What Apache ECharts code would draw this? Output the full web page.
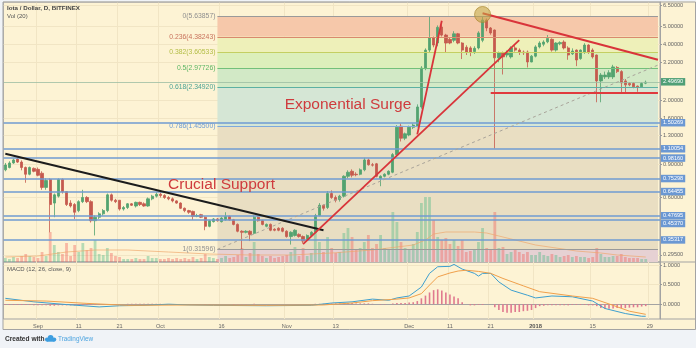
<!DOCTYPE html>
<html>
<head>
<meta charset="utf-8">
<script src="https://cdn.jsdelivr.net/npm/echarts@6/dist/echarts.min.js"></script>
<style>
html,body{margin:0;padding:0;background:#ffffff;}
#chart{width:696px;height:348px;}
</style>
</head>
<body>
<div id="chart"></div>
<script>
// ---------------- data ----------------
const firstDay = Date.UTC(2017, 7, 24);
const dayCount = 161;
const categories = [];
for (let i = 0; i < dayCount; i++) {
  categories.push(new Date(firstDay + i * 86400000).toISOString().slice(0, 10));
}
const xTickLabels = [
  ['2017-09-01','Sep'],['2017-09-11','11'],['2017-09-21','21'],['2017-10-01','Oct'],
  ['2017-10-16','16'],['2017-11-01','Nov'],['2017-11-13','13'],['2017-12-01','Dec'],
  ['2017-12-11','11'],['2017-12-21','21'],['2018-01-01','2018'],['2018-01-15','15'],['2018-01-29','29']
];
// daily candles from 2017-08-24: [open, close, low, high]
const ohlc = [
  [0.845,0.897,0.83,0.92],[0.87,0.92,0.86,0.94],[0.92,0.955,0.91,0.97],[0.965,0.93,0.92,0.98],[0.93,0.87,0.84,0.95],
  [0.87,0.80,0.72,0.88],[0.80,0.87,0.79,0.88],[0.86,0.83,0.82,0.87],[0.85,0.79,0.78,0.87],[0.81,0.68,0.66,0.83],
  [0.68,0.74,0.66,0.76],[0.75,0.55,0.39,0.76],[0.56,0.62,0.47,0.63],[0.61,0.75,0.60,0.76],[0.75,0.645,0.63,0.76],
  [0.645,0.55,0.54,0.65],[0.56,0.54,0.53,0.58],[0.55,0.50,0.46,0.56],[0.51,0.57,0.50,0.58],[0.57,0.60,0.56,0.66],
  [0.60,0.57,0.56,0.61],[0.57,0.45,0.44,0.58],[0.45,0.47,0.375,0.48],[0.47,0.49,0.46,0.50],[0.49,0.51,0.48,0.52],
  [0.51,0.62,0.50,0.63],[0.62,0.58,0.57,0.63],[0.58,0.57,0.56,0.59],[0.58,0.52,0.51,0.58],[0.52,0.53,0.51,0.54],
  [0.53,0.555,0.52,0.56],[0.555,0.545,0.54,0.56],[0.54,0.565,0.53,0.57],[0.565,0.55,0.54,0.57],[0.555,0.54,0.535,0.565],
  [0.54,0.59,0.535,0.60],[0.59,0.61,0.58,0.62],[0.61,0.625,0.60,0.64],[0.625,0.615,0.60,0.64],[0.615,0.60,0.59,0.625],
  [0.60,0.59,0.58,0.61],[0.59,0.575,0.565,0.60],[0.575,0.56,0.555,0.58],[0.56,0.525,0.52,0.565],[0.525,0.51,0.50,0.53],
  [0.51,0.50,0.49,0.515],[0.505,0.475,0.455,0.51],[0.475,0.48,0.47,0.49],[0.485,0.47,0.465,0.49],[0.47,0.42,0.40,0.475],
  [0.42,0.45,0.415,0.455],[0.445,0.46,0.44,0.465],[0.46,0.45,0.445,0.465],[0.445,0.465,0.44,0.47],[0.455,0.475,0.45,0.50],
  [0.475,0.455,0.45,0.48],[0.455,0.43,0.425,0.46],[0.43,0.395,0.39,0.435],[0.395,0.39,0.316,0.40],[0.39,0.395,0.385,0.40],
  [0.395,0.38,0.35,0.40],[0.385,0.47,0.38,0.48],[0.47,0.45,0.445,0.475],[0.45,0.43,0.425,0.455],[0.42,0.43,0.415,0.435],
  [0.43,0.40,0.395,0.435],[0.405,0.40,0.395,0.41],[0.41,0.40,0.395,0.415],[0.41,0.395,0.39,0.415],[0.395,0.37,0.365,0.40],
  [0.37,0.39,0.335,0.395],[0.375,0.40,0.37,0.405],[0.38,0.37,0.365,0.385],[0.37,0.35,0.34,0.375],[0.355,0.375,0.35,0.38],
  [0.375,0.39,0.37,0.395],[0.39,0.48,0.385,0.49],[0.48,0.545,0.475,0.56],[0.545,0.525,0.51,0.55],[0.53,0.63,0.52,0.65],
  [0.63,0.60,0.59,0.655],[0.60,0.58,0.565,0.615],[0.585,0.61,0.57,0.62],[0.61,0.78,0.60,0.79],[0.78,0.82,0.76,0.84],
  [0.83,0.79,0.77,0.85],[0.80,0.795,0.78,0.82],[0.80,0.845,0.79,0.86],[0.845,0.955,0.83,0.98],[0.955,0.90,0.89,0.97],
  [0.90,0.895,0.88,0.92],[0.91,0.78,0.77,0.92],[0.76,0.78,0.69,0.79],[0.78,0.80,0.77,0.81],[0.80,0.83,0.79,0.84],
  [0.82,1.02,0.81,1.04],[1.02,1.43,1.00,1.47],[1.45,1.25,1.20,1.50],[1.25,1.32,1.22,1.34],[1.30,1.43,1.28,1.46],
  [1.43,1.47,1.40,1.50],[1.45,1.84,1.43,1.90],[1.84,2.98,1.80,3.05],[2.98,3.72,2.90,3.80],[3.72,4.32,3.60,5.60],
  [4.32,3.96,3.85,4.40],[4.06,4.93,3.90,5.05],[4.95,4.48,4.40,5.10],[4.48,4.06,3.60,4.55],[4.25,4.06,4.00,4.35],
  [4.20,4.55,4.10,4.70],[4.55,4.06,4.00,4.60],[4.06,3.72,3.33,4.10],[3.85,3.63,3.50,3.95],[3.82,3.62,3.45,3.90],
  [3.65,3.80,3.55,3.90],[3.82,4.60,3.75,4.70],[4.20,5.40,4.10,5.64],[5.40,4.89,4.70,5.50],[4.89,4.60,4.50,4.95],
  [4.77,3.38,1.10,4.80],[3.38,3.59,3.20,3.65],[3.59,3.42,2.75,3.65],[3.50,3.59,3.40,3.70],[3.42,3.82,3.35,3.90],
  [3.82,3.72,3.65,3.95],[3.72,3.63,3.50,3.80],[3.63,3.60,3.50,3.70],[3.63,3.21,3.00,3.70],[3.21,3.45,3.20,3.50],
  [3.45,3.87,3.40,3.95],[3.87,4.06,3.80,4.15],[4.00,4.11,3.90,4.20],[4.12,4.30,4.05,4.48],[4.25,3.72,3.65,4.30],
  [3.72,4.06,3.65,4.10],[4.02,4.08,3.95,4.15],[4.11,3.82,3.75,4.20],[3.82,3.50,3.30,3.90],[3.55,3.68,3.50,3.80],
  [3.72,3.29,3.05,3.75],[3.35,3.72,3.30,3.75],[3.63,3.96,3.55,4.05],[3.96,3.63,3.55,4.00],[3.72,3.42,3.35,3.80],
  [3.50,2.54,1.95,3.52],[2.54,2.73,1.95,2.80],[2.67,2.73,2.60,2.85],[2.67,2.81,2.60,2.90],[2.67,3.02,2.60,3.10],
  [3.00,2.85,2.80,3.05],[2.85,2.48,2.16,2.90],[2.54,2.42,2.16,2.60],[2.46,2.42,2.38,2.50],[2.46,2.36,2.32,2.50],
  [2.38,2.34,2.22,2.40],[2.36,2.46,2.33,2.50],[2.47,2.4969,2.44,2.55]
];
const volumes = [
  4,3,5,4,6,8,6,5,4,10, 6,30,17,10,8,19,6,17,10,19, 12,14,22,8,7,14,9,6,5,3, 3,3,4,3,3,6,4,4,3,3,
  4,3,4,3,4,3,5,3,4,8, 5,4,3,4,6,4,5,7,14,5, 9,20,8,6,4,6,4,5,6,7, 10,15,6,14,6,9,29,20,10,25,
  14,9,10,29,34,25,12,14,20,27, 14,18,27,14,12,50,40,20,14,13, 18,30,59,65,65,42,25,22,24,18,
  22,16,22,10,11,12,20,34,14,12, 50,14,15,8,10,13,10,8,10,7, 7,10,7,6,8,7,5,6,7,5,
  6,5,5,4,5,14,8,5,5,6, 6,8,5,4,4,4,3,3
];
const volumeMA20 = [[0,5],[8,6],[15,10],[22,12],[30,12],[40,10],[50,8],[60,7],[70,7],[80,9],[90,12],[96,15],[100,17],
  [103,22],[105,28],[108,30],[115,30],[118,29],[120,27],[125,22],[130,17],[135,14],[140,11],[146,9],[150,7],[157,5]];
const macdLine = [[0,0.15],[7,0.06],[15,-0.01],[23,-0.07],[28,-0.04],[34,-0.03],[40,0.0],[45,-0.02],[51,-0.03],[64,-0.04],
  [75,-0.03],[80,0.03],[85,0.06],[90,0.13],[94,0.10],[96,0.16],[99,0.21],[102,0.44],[104,0.79],[106,0.96],[109,0.97],
  [110,1.02],[112,0.90],[115,0.79],[116,0.72],[117,0.79],[119,0.79],[121,0.57],[124,0.36],[128,0.23],[130,0.16],
  [134,0.21],[139,0.19],[144,0.08],[147,-0.11],[152,-0.24],[156,-0.31],[157,-0.31]];
const signalLine = [[0,0.10],[10,0.08],[20,0.02],[30,-0.03],[45,-0.02],[64,-0.03],[78,-0.02],[85,0.03],[90,0.09],[96,0.13],
  [99,0.16],[102,0.27],[104,0.49],[106,0.70],[109,0.80],[111,0.85],[113,0.87],[116,0.84],[119,0.79],[122,0.66],[127,0.47],
  [131,0.32],[139,0.21],[144,0.15],[149,-0.03],[153,-0.18],[157,-0.26]];
const macdHist = [
  -0.02,-0.02,-0.02,-0.02,-0.02,-0.02,-0.02,-0.03,-0.03,-0.03, -0.03,-0.04,-0.04,-0.03,-0.03,-0.03,-0.03,-0.03,-0.02,-0.02,
  -0.02,-0.02,-0.02,-0.02,-0.01,-0.01,-0.01,-0.01,0.00,0.00, 0.01,0.01,0.01,0.01,0.01,0.01,0.01,0.01,0.01,0.00,
  0.00,0.00,-0.01,-0.01,-0.01,-0.01,-0.01,-0.01,-0.01,-0.01, -0.01,0.00,0.00,0.00,0.00,0.00,-0.01,-0.01,-0.01,-0.01,
  0.00,0.01,0.00,0.00,0.00,0.00,0.00,0.00,0.00,0.00, 0.00,0.00,0.00,0.00,0.00,0.00,0.01,0.01,0.01,0.02,
  0.02,0.02,0.02,0.02,0.03,0.03,0.02,0.02,0.02,0.02, 0.01,0.00,-0.01,-0.01,0.00,0.02,0.03,0.03,0.03,0.04,
  0.05,0.08,0.15,0.22,0.30,0.36,0.38,0.35,0.30,0.25, 0.20,0.15,0.05,0.00,-0.03,-0.03,-0.02,-0.02,0.00,0.00,
  -0.08,-0.15,-0.20,-0.22,-0.22,-0.20,-0.20,-0.18,-0.17,-0.15, -0.10,-0.05,-0.04,-0.03,-0.03,-0.03,-0.03,-0.03,-0.03,-0.02,
  -0.02,-0.02,-0.02,-0.03,-0.03,-0.05,-0.10,-0.12,-0.12,-0.11, -0.10,-0.10,-0.10,-0.09,-0.08,-0.08,-0.06,-0.05
];
const priceTicks = [6.5, 5, 4, 3.2, 2, 1.6, 1.3, 0.9, 0.6, 0.295];
const macdTicks = [0, 0.5, 1];
const priceRange = [0.270, 6.746];
const macdRange = [-0.38, 1.0815];
const volumeRange = [0, 260];
const fibLevels = ['0','0.236','0.382','0.5','0.618','0.786','1'];
const fibPrices = [5.63857, 4.38243, 3.60533, 2.97726, 2.34920, 1.45500, 0.31596];
const fibSpan = ['2017-10-15', '2018-01-31'];
const levelLines = [1.50269, 1.10054, 0.98160, 0.75298, 0.64455, 0.47695, 0.45370, 0.35317];
const lastPrice = 2.49690;
const downTrendBlack = [['2017-08-24', 1.03], ['2017-11-10', 0.40]];
const upTrendRed = [['2017-11-05', 0.337], ['2017-12-28', 4.21]];
const surgeRed = [['2017-12-03', 1.31], ['2017-12-09', 5.35]];
const topTrendRed = [['2017-12-19', 5.87], ['2018-01-31', 3.30]];
const supportRed = [['2017-12-21', 2.19], ['2018-01-31', 2.19]];
const fibTrendDashed = [['2017-10-15', 0.31596], ['2018-01-31', 3.09]];
const peakMarker = ['2017-12-19', 5.78];
const notes = [['Exponential Surge', '2017-11-16', 1.886], ['Crucial Support', '2017-10-16', 0.701]];

// ---------------- styles ----------------
const L = Math.log10;
const FONT = 'Liberation Sans, Arial, sans-serif';
const fmtPrice = v => v.toFixed(5);
const upColor = '#53a370', downColor = '#c55a4e';
const volUp = 'rgba(83,185,135,0.42)', volDown = 'rgba(240,95,90,0.40)';
const fibLineColors = ['#9a9a9a','#d98a6e','#c4cf62','#72c07a','#5db0a2','#7ea9dc','#9a9a9a'];
const fibLabelColors = ['#8f8f8f','#c9735c','#b3bd45','#5bb563','#4aa394','#6d9bd3','#8f8f8f'];
const fibBandColors = ['#f6c8aa','#eef0b9','#dcefbb','#d2e9c6','#d5e6d5','#e9dec2','#e6d1d3'];
const gridLineColor = '#f1e5c4';
const frameColor = '#a3a3a3';

const tickMap = Object.fromEntries(xTickLabels);
const showTick = (idx, val) => Object.prototype.hasOwnProperty.call(tickMap, val);

const fibAreas = fibPrices.map((p, k) => [
  {xAxis: fibSpan[0], yAxis: L(p), itemStyle: {color: fibBandColors[k]}},
  {xAxis: fibSpan[1], yAxis: L(k + 1 < fibPrices.length ? fibPrices[k + 1] : priceRange[0])}
]);
const fibLines = fibPrices.map((p, k) => [
  {coord: [fibSpan[0], L(p)], lineStyle: {color: fibLineColors[k], width: 1, type: 'solid'},
   label: {show: true, position: 'start', formatter: fibLevels[k] + '(' + fmtPrice(p) + ')',
           color: fibLabelColors[k], fontSize: 6.8, fontFamily: FONT, distance: 2}},
  {coord: [fibSpan[1], L(p)]}
]);
const boxLabel = (text, bg, offset) => ({
  show: true, position: 'end', formatter: text, color: '#ffffff', backgroundColor: bg,
  padding: [1, 2, 0.5, 2], fontSize: 5.6, lineHeight: 6, fontFamily: FONT, distance: 1, offset: offset || [0, 0]
});
const levelItems = levelLines.map(p => ({
  yAxis: L(p), lineStyle: {color: '#6f9bd2', width: 1.5, type: 'solid'},
  label: boxLabel(fmtPrice(p), '#6b98d3', p === 0.4537 ? [0, 4] : [0, 0])
}));
levelItems.push({yAxis: L(lastPrice), lineStyle: {color: '#9cbda3', width: 0.8, type: 'solid'},
  label: boxLabel(fmtPrice(lastPrice), '#4f9f76')});
const seg = (pts, color, width, type) => [
  {coord: [pts[0][0], L(pts[0][1])], lineStyle: {color: color, width: width, type: type || 'solid'}, label: {show: false}},
  {coord: [pts[1][0], L(pts[1][1])]}
];
const drawingLines = [
  seg(fibTrendDashed, '#a9a49a', 1, [3, 3]),
  seg(downTrendBlack, '#1c1c1c', 2),
  seg(upTrendRed, '#d9343a', 1.8),
  seg(surgeRed, '#d9343a', 1.8),
  seg(topTrendRed, '#d9343a', 2),
  seg(supportRed, '#e03a3e', 2)
];

const candleData = ohlc.map(([o, c, l, h]) => [L(o), L(c), L(l), L(h)]);
const volumeData = volumes.map((v, i) => ({value: v, itemStyle: {color: ohlc[i][1] >= ohlc[i][0] ? volUp : volDown}}));

const axisLabelStyle = {fontSize: 5.6, color: '#666', fontFamily: FONT};

const option = {
  animation: false,
  backgroundColor: '#fdf3d4',
  title: [
    {text: 'Iota / Dollar, D, BITFINEX', subtext: 'Vol (20)', left: 7, top: 5, padding: 0, itemGap: 2,
     textStyle: {fontSize: 6.2, fontWeight: 'bold', color: '#444', fontFamily: FONT},
     subtextStyle: {fontSize: 6, color: '#555', fontFamily: FONT}},
    {text: 'MACD (12, 26, close, 9)', left: 7, top: 266, padding: 0,
     textStyle: {fontSize: 6, fontWeight: 'normal', color: '#555', fontFamily: FONT}}
  ],
  grid: [
    {left: 3.3, top: 2, width: 656.7, height: 260, show: true, borderColor: frameColor, borderWidth: 1,
     backgroundColor: 'transparent', outerBoundsMode: 'none'},
    {left: 3.3, top: 262, width: 656.7, height: 57, show: true, borderColor: frameColor, borderWidth: 1,
     backgroundColor: 'transparent', outerBoundsMode: 'none'}
  ],
  xAxis: [
    {type: 'category', gridIndex: 0, data: categories, boundaryGap: true,
     axisLine: {show: false}, axisTick: {show: false}, axisLabel: {show: false},
     splitLine: {show: true, interval: showTick, lineStyle: {color: gridLineColor, width: 1}}},
    {type: 'category', gridIndex: 1, data: categories, boundaryGap: true,
     axisLine: {show: true, lineStyle: {color: frameColor}}, axisTick: {show: false},
     axisLabel: Object.assign({show: true, interval: showTick, margin: 4,
       formatter: v => tickMap[v] === '2018' ? '{b|2018}' : tickMap[v],
       rich: {b: {fontWeight: 'bold', fontSize: 5.8, color: '#555', fontFamily: FONT}}}, axisLabelStyle),
     splitLine: {show: true, interval: showTick, lineStyle: {color: gridLineColor, width: 1}}}
  ],
  yAxis: [
    {type: 'value', gridIndex: 0, position: 'right', min: L(priceRange[0]), max: L(priceRange[1]),
     axisLine: {show: true, lineStyle: {color: frameColor}},
     axisTick: {show: true, length: 2, customValues: priceTicks.map(p => L(p)), lineStyle: {color: '#999'}},
     axisLabel: Object.assign({customValues: priceTicks.map(p => L(p)), margin: 3,
       formatter: v => fmtPrice(Math.pow(10, v))}, axisLabelStyle),
     splitLine: {show: true, lineStyle: {color: gridLineColor, width: 1}}},
    {type: 'value', gridIndex: 0, min: volumeRange[0], max: volumeRange[1], show: false,
     splitLine: {show: false}},
    {type: 'value', gridIndex: 1, position: 'right', min: macdRange[0], max: macdRange[1],
     axisLine: {show: true, lineStyle: {color: frameColor}},
     axisTick: {show: true, length: 2, customValues: macdTicks, lineStyle: {color: '#999'}},
     axisLabel: Object.assign({customValues: macdTicks, margin: 3, formatter: v => v.toFixed(4)}, axisLabelStyle),
     splitLine: {show: true, lineStyle: {color: gridLineColor, width: 1}}}
  ],
  series: [
    {name: 'fib', type: 'line', xAxisIndex: 0, yAxisIndex: 0, data: [], silent: true,
     markArea: {silent: true, data: fibAreas},
     markLine: {silent: true, symbol: ['none', 'none'], label: {show: false}, lineStyle: {type: 'solid'}, data: fibLines}},
    {name: 'Volume', type: 'bar', xAxisIndex: 0, yAxisIndex: 1, data: volumeData, barWidth: 2.8, z: 2, silent: true},
    {name: 'Vol MA', type: 'line', xAxisIndex: 0, yAxisIndex: 1, data: volumeMA20, showSymbol: false, z: 2,
     lineStyle: {color: '#eea66b', width: 0.8, opacity: 0.85}, silent: true},
    {name: 'IOTAUSD', type: 'candlestick', xAxisIndex: 0, yAxisIndex: 0, data: candleData, barWidth: 2.8, z: 3,
     itemStyle: {color: upColor, color0: downColor, borderColor: upColor, borderColor0: downColor, borderWidth: 0.8},
     markPoint: {silent: true, data: [
       {coord: [peakMarker[0], L(peakMarker[1])], symbol: 'circle', symbolSize: 16,
        itemStyle: {color: 'rgba(196,163,70,0.6)', borderColor: 'rgba(170,135,50,0.7)', borderWidth: 1},
        label: {show: false}}
     ].concat(notes.map(([text, d, p]) => ({
        coord: [d, L(p)], symbol: 'rect', symbolSize: 1, itemStyle: {color: 'rgba(0,0,0,0)'},
        label: {show: true, position: 'inside', formatter: text, fontSize: 15.5, color: '#cf3b3d', fontFamily: FONT}
     })))}},
    {name: 'levels', type: 'line', xAxisIndex: 0, yAxisIndex: 0, data: [], silent: true,
     markLine: {silent: true, symbol: ['none', 'none'], label: {show: false}, lineStyle: {type: 'solid'},
       data: levelItems.concat(drawingLines)}},
    {name: 'Histogram', type: 'bar', xAxisIndex: 1, yAxisIndex: 2, data: macdHist, barWidth: 1.6, silent: true,
     itemStyle: {color: '#e0798f'}},
    {name: 'MACD', type: 'line', xAxisIndex: 1, yAxisIndex: 2, data: macdLine, showSymbol: false, silent: true,
     lineStyle: {color: '#3d9fcf', width: 1}},
    {name: 'Signal', type: 'line', xAxisIndex: 1, yAxisIndex: 2, data: signalLine, showSymbol: false, silent: true,
     lineStyle: {color: '#f0a04b', width: 1}}
  ],
  graphic: [
    {type: 'rect', silent: true, shape: {x: 0, y: 329.5, width: 696, height: 18.5}, style: {fill: '#f0f3f7'}},
    {type: 'rect', silent: true, shape: {x: 0, y: 0, width: 3, height: 348}, style: {fill: '#f0f3f7'}},
    {type: 'rect', silent: true, shape: {x: 0, y: 0, width: 696, height: 1.5}, style: {fill: '#f0f3f7'}},
    {type: 'rect', silent: true, z: 20, shape: {x: 3, y: 2, width: 692.5, height: 327.5},
     style: {fill: 'none', stroke: frameColor, lineWidth: 1}},
    {type: 'line', silent: true, z: 20, shape: {x1: 660, y1: 262, x2: 695.5, y2: 262}, style: {stroke: frameColor, lineWidth: 1}},
    {type: 'line', silent: true, z: 20, shape: {x1: 660, y1: 319, x2: 695.5, y2: 319}, style: {stroke: frameColor, lineWidth: 1}},
    {type: 'text', silent: true, x: 5, y: 339, style: {text: 'Created with', fontSize: 6.6, fontWeight: 'bold',
      fill: '#333', fontFamily: FONT, verticalAlign: 'middle'}},
    {type: 'circle', silent: true, shape: {cx: 47, cy: 339.6, r: 2.1}, style: {fill: '#3d9ee0'}},
    {type: 'circle', silent: true, shape: {cx: 50.6, cy: 337.9, r: 2.9}, style: {fill: '#3d9ee0'}},
    {type: 'circle', silent: true, shape: {cx: 54.2, cy: 339.6, r: 2.1}, style: {fill: '#3d9ee0'}},
    {type: 'rect', silent: true, shape: {x: 47, y: 339, width: 7.2, height: 2.7}, style: {fill: '#3d9ee0'}},
    {type: 'text', silent: true, x: 58, y: 339, style: {text: 'TradingView', fontSize: 6.4,
      fill: '#4ea5e0', fontFamily: FONT, verticalAlign: 'middle'}}
  ]
};

const chart = echarts.init(document.getElementById('chart'), null, {renderer: 'canvas', devicePixelRatio: 1});
chart.setOption(option);
</script>
</body>
</html>
